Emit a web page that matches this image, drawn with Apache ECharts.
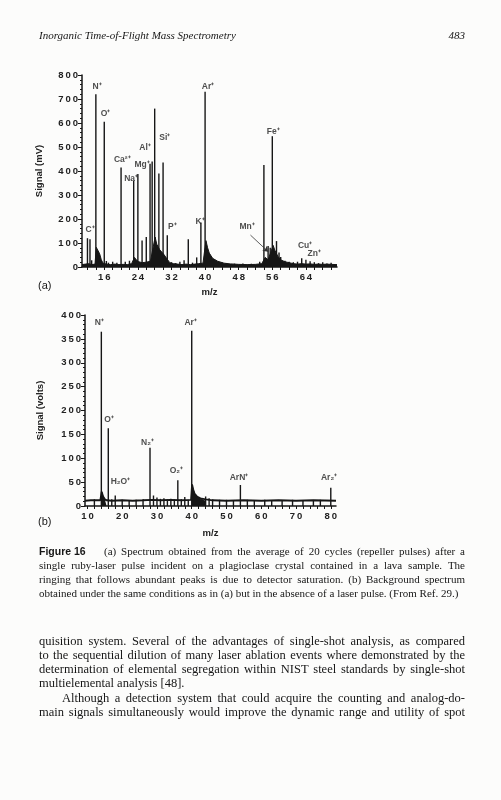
<!DOCTYPE html>
<html lang="en">
<head>
  <meta charset="utf-8">
</head>
<body style="margin: 0; background: #fcfcfb">
  <div id="container" style="width: 501px; height: 800px"></div>
  <script src="https://cdn.jsdelivr.net/npm/echarts@6.0.0/dist/echarts.min.js"></script>
  <script>
    // ---- (a) ruby-laser shot on plagioclase, signal in mV ----
    var peaksA = [
      [12, 120], [12.6, 116], [13, 28], [14, 720], [16, 605], [16.5, 25], [17, 18], [18, 22], [19, 18],
      [20, 415], [21, 22], [22, 26], [23, 360], [24, 388], [25, 110], [26, 125], [26.9, 430], [27.4, 440],
      [28, 660], [29, 390], [30, 435], [31, 132], [32, 20], [33, 16], [34, 22], [35, 28], [36, 116],
      [37, 18], [38, 40], [39, 185], [40, 730], [42, 24], [44, 20], [45, 16], [47, 14], [49, 15], [51, 14],
      [53, 22], [54, 425], [55, 88], [55.5, 80], [56, 545], [57, 108], [57.6, 60], [58, 42], [59, 26],
      [60, 22], [61, 20], [62, 22], [63, 36], [64, 30], [65, 24], [66, 20], [67, 16], [68, 20], [69, 15], [70, 18]
    ];
    // noise floor + detector ringing after saturated peaks
    var floorA = [
      [10.7, 10], [11.5, 12], [12.3, 14], [13, 10], [13.8, 12], [14.1, 82], [14.5, 75], [14.9, 55], [15.3, 30],
      [15.7, 16], [16.5, 12], [17.5, 10], [18.5, 12], [19.5, 10], [20.5, 11], [21.5, 10], [22.5, 14], [23.2, 40],
      [23.6, 30], [24.2, 22], [25, 18], [26, 20], [27, 24], [28.1, 125], [28.5, 95], [29.2, 72], [30.2, 52],
      [31, 32], [31.6, 18], [32.5, 14], [33.5, 12], [34.5, 10], [35.5, 12], [36.5, 10], [37.5, 12], [38.5, 14],
      [39.5, 16], [40.2, 110], [40.6, 80], [41, 58], [41.8, 36], [43, 24], [44.5, 16], [46, 13], [48, 11],
      [50, 10], [52, 11], [53.5, 14], [54.3, 40], [55, 30], [56.2, 90], [56.6, 70], [57.3, 45], [58, 30],
      [59, 22], [60, 18], [61, 14], [62, 12], [63, 14], [64, 12], [65, 13], [66, 11], [67, 12], [68, 11],
      [69, 12], [70, 11], [71.4, 10]
    ];
    var labelsA = [
      ['C⁺', 12.6, 154], ['N⁺', 14.3, 750], ['O⁺', 16.3, 637], ['Ca²⁺', 20.3, 446], ['Na⁺', 22.4, 367],
      ['Mg⁺', 25, 425], ['Al⁺', 25.7, 496], ['Si⁺', 30.4, 537], ['P⁺', 32.2, 167], ['K⁺', 38.8, 187],
      ['Ar⁺', 40.7, 750], ['Fe⁺', 56.2, 562], ['Mn⁺', 50, 167], ['Cu⁺', 63.8, 87], ['Zn⁺', 66, 54]
    ];
    var xLabelsA = [16, 24, 32, 40, 48, 56, 64];
    var xTicksA = [12, 14, 16, 18, 20, 22, 24, 26, 28, 30, 32, 34, 36, 38, 40, 42, 44, 46, 48, 50, 52, 54, 56, 58, 60, 62, 64, 66, 68, 70];

    // ---- (b) background, no laser pulse, signal in volts ----
    var peaksB = [
      [12, 14], [14, 365], [16, 163], [17, 14], [18, 22], [20, 13], [22, 12], [24, 13], [26, 14], [28, 122],
      [29, 22], [30, 18], [31, 15], [32, 16], [33, 14], [34, 15], [35, 14], [36, 54], [37, 14], [38, 19],
      [39, 13], [40, 367], [43, 14], [44, 20], [45, 16], [46, 14], [48, 13], [50, 13], [52, 12], [54, 44],
      [56, 13], [58, 12], [61, 13], [63, 12], [66, 12], [69, 13], [72, 12], [75, 12], [77, 13], [80, 38]
    ];
    var floorB = [
      [9.3, 11], [11, 12], [13.7, 12], [14.1, 30], [14.5, 20], [15, 14], [15.6, 12], [17, 11], [20, 12],
      [23, 11], [26, 12], [28.5, 13], [31, 12], [34, 13], [37, 12], [39.8, 13], [40.1, 45], [40.4, 35],
      [40.8, 26], [41.5, 20], [42.5, 16], [44, 14], [46, 12], [50, 11], [55, 12], [60, 11], [65, 12],
      [70, 11], [75, 12], [81.5, 11]
    ];
    var ringB = [
      [14.05, 30], [14.5, 20], [15, 14], [15.5, 10], null,
      [40.05, 45], [40.4, 35], [40.8, 26], [41.5, 20], [42.5, 14], [44, 10]
    ];
    var labelsB = [
      ['N⁺', 13.4, 383], ['Ar⁺', 39.7, 383], ['O⁺', 16.2, 180], ['H₂O⁺', 19.5, 52], ['N₂⁺', 27.3, 132],
      ['O₂⁺', 35.6, 75], ['ArN⁺', 53.6, 59], ['Ar₂⁺', 79.5, 59]
    ];
    var xLabelsB = [10, 20, 30, 40, 50, 60, 70, 80];
    var xTicksB = [10, 12, 14, 16, 18, 20, 22, 24, 26, 28, 30, 32, 34, 36, 38, 40, 42, 44, 46, 48, 50, 52, 54, 56, 58, 60, 62, 64, 66, 68, 70, 72, 74, 76, 78, 80];

    // ---- page text ----
    var header = 'Inorganic Time-of-Flight Mass Spectrometry';
    var pageNo = '483';
    var captionHead = 'Figure 16';
    var captionLines = [
      '(a) Spectrum obtained from the average of 20 cycles (repeller pulses) after a',
      'single ruby-laser pulse incident on a plagioclase crystal contained in a lava sample. The',
      'ringing that follows abundant peaks is due to detector saturation. (b) Background spectrum',
      'obtained under the same conditions as in (a) but in the absence of a laser pulse. (From Ref. 29.)'
    ];
    var bodyLines = [
      'quisition system. Several of the advantages of single-shot analysis, as compared',
      'to the sequential dilution of many laser ablation events where demonstrated by the',
      'determination of elemental segregation within NIST steel standards by single-shot',
      'multielemental analysis [48].',
      'Although a detection system that could acquire the counting and analog-do-',
      'main signals simultaneously would improve the dynamic range and utility of spot'
    ];

    var ink = '#161616';
    var sans = '"Liberation Sans", Arial, sans-serif';
    var serif = '"Liberation Serif", "Times New Roman", serif';

    function spaced(v) {
      return String(v).split('').join('\u2009');
    }

    // lay a line of words out between x0 and x1 (justified like the book)
    var ctx = document.createElement('canvas').getContext('2d');
    function textLine(text, font, x0, x1, y, justify) {
      var words = text.split(' ');
      ctx.font = font;
      var widths = words.map(function (w) { return ctx.measureText(w).width; });
      var total = widths.reduce(function (a, b) { return a + b; }, 0);
      var gap = ctx.measureText(' ').width;
      if (justify && words.length > 1) gap = (x1 - x0 - total) / (words.length - 1);
      var x = x0, out = [];
      words.forEach(function (w, i) {
        out.push({ type: 'text', silent: true, style: { text: w, x: x, y: y, font: font, fill: ink, verticalAlign: 'middle' } });
        x += widths[i] + gap;
      });
      return out;
    }

    var L = 39, R = 465;
    var graphics = [
      { type: 'text', silent: true, style: { text: header, x: L, y: 36, font: 'italic 11px ' + serif, fill: ink, verticalAlign: 'middle' } },
      { type: 'text', silent: true, style: { text: pageNo, x: R, y: 36, font: 'italic 11px ' + serif, fill: ink, align: 'right', verticalAlign: 'middle' } },
      { type: 'text', silent: true, style: { text: '(a)', x: 38, y: 286, font: '11px ' + sans, fill: ink, verticalAlign: 'middle' } },
      { type: 'text', silent: true, style: { text: '(b)', x: 38, y: 522, font: '11px ' + sans, fill: ink, verticalAlign: 'middle' } },
      { type: 'text', silent: true, style: { text: captionHead, x: L, y: 552, font: 'bold 10.5px ' + sans, fill: ink, verticalAlign: 'middle' } }
    ];
    var capFont = '11px ' + serif;
    graphics = graphics.concat(textLine(captionLines[0], capFont, 104, R, 552, true));
    graphics = graphics.concat(textLine(captionLines[1], capFont, L, R, 566, true));
    graphics = graphics.concat(textLine(captionLines[2], capFont, L, R, 580, true));
    graphics = graphics.concat(textLine(captionLines[3], capFont, L, R, 594, false));
    var bodyFont = '12.5px ' + serif;
    var bodyY = [642, 656, 670, 684, 699, 713];
    bodyLines.forEach(function (s, i) {
      var x0 = i === 4 ? 62 : L;
      graphics = graphics.concat(textLine(s, bodyFont, x0, R, bodyY[i], i !== 3));
    });

    function valueAxis(opt) {
      return Object.assign({
        type: 'value',
        splitLine: { show: false },
        axisLine: { show: true, onZero: true, lineStyle: { color: ink, width: 1.5 } },
        axisTick: { show: true, length: 4, lineStyle: { color: ink, width: 1 } },
        axisLabel: { color: '#222', fontSize: 9.5, fontWeight: 'bold', fontFamily: sans, margin: 4, formatter: spaced },
        nameTextStyle: { color: '#222', fontSize: 9.5, fontWeight: 'bold', fontFamily: sans },
        nameLocation: 'middle'
      }, opt);
    }

    function toLabels(list) {
      return list.map(function (d) { return [d[1], d[2], d[0]]; });
    }

    var labelStyle = {
      show: true, position: 'inside', color: '#222', fontSize: 8.5, fontWeight: 'bold', fontFamily: sans,
      formatter: function (p) { return p.data[2]; }
    };

    var dom = document.getElementById('container');
    var myChart = echarts.init(dom, null, { renderer: 'canvas' });

    var option = {
      backgroundColor: '#fcfcfb',
      animation: false,
      grid: [
        { left: 82, top: 75, width: 255, height: 192 },
        { left: 85, top: 315, width: 251, height: 191 }
      ],
      xAxis: [
        valueAxis({
          gridIndex: 0, min: 10.7, max: 71.4, name: 'm/z', nameGap: 20,
          axisTick: { show: true, length: 3, customValues: xTicksA, lineStyle: { color: ink } },
          axisLabel: { color: '#222', fontSize: 9.5, fontWeight: 'bold', fontFamily: sans, margin: 5, customValues: xLabelsA, formatter: spaced }
        }),
        valueAxis({
          gridIndex: 1, min: 9.3, max: 81.5, name: 'm/z', nameGap: 22,
          axisTick: { show: true, length: 3, customValues: xTicksB, lineStyle: { color: ink } },
          axisLabel: { color: '#222', fontSize: 9.5, fontWeight: 'bold', fontFamily: sans, margin: 5, customValues: xLabelsB, formatter: spaced }
        })
      ],
      yAxis: [
        valueAxis({
          gridIndex: 0, min: 0, max: 800, interval: 100, name: 'Signal (mV)', nameGap: 38,
          minorTick: { show: true, splitNumber: 5, length: 2, lineStyle: { color: ink } }
        }),
        valueAxis({
          gridIndex: 1, min: 0, max: 400, interval: 50, name: 'Signal (volts)', nameGap: 40,
          minorTick: { show: true, splitNumber: 5, length: 2, lineStyle: { color: ink } }
        })
      ],
      series: [
        {
          type: 'line', xAxisIndex: 0, yAxisIndex: 0, data: floorA, symbol: 'none',
          lineStyle: { color: ink, width: 1 }, areaStyle: { color: ink, opacity: 1 }, silent: true
        },
        {
          type: 'bar', xAxisIndex: 0, yAxisIndex: 0, data: peaksA, barWidth: 1.4,
          itemStyle: { color: ink }, silent: true
        },
        {
          type: 'scatter', xAxisIndex: 0, yAxisIndex: 0, data: toLabels(labelsA), symbolSize: 1,
          itemStyle: { color: 'rgba(0,0,0,0)' }, label: labelStyle, silent: true,
          markLine: {
            silent: true, symbol: ['none', 'arrow'], symbolSize: 5,
            lineStyle: { color: '#333', width: 0.8, type: 'solid' }, label: { show: false },
            data: [[{ coord: [50.8, 133] }, { coord: [55, 64] }]]
          }
        },
        {
          type: 'line', xAxisIndex: 1, yAxisIndex: 1, data: floorB, symbol: 'none',
          lineStyle: { color: ink, width: 1.8 }, silent: true
        },
        {
          type: 'line', xAxisIndex: 1, yAxisIndex: 1, data: ringB, symbol: 'none', connectNulls: false,
          lineStyle: { color: ink, width: 1 }, areaStyle: { color: ink, opacity: 1 }, silent: true
        },
        {
          type: 'bar', xAxisIndex: 1, yAxisIndex: 1, data: peaksB, barWidth: 1.4,
          itemStyle: { color: ink }, silent: true
        },
        {
          type: 'scatter', xAxisIndex: 1, yAxisIndex: 1, data: toLabels(labelsB), symbolSize: 1,
          itemStyle: { color: 'rgba(0,0,0,0)' }, label: labelStyle, silent: true
        }
      ],
      graphic: graphics
    };

    myChart.setOption(option);
    window.addEventListener('resize', myChart.resize);
  </script>
</body>
</html>
